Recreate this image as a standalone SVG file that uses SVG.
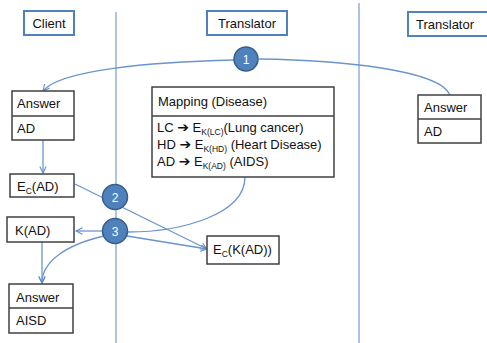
<svg xmlns="http://www.w3.org/2000/svg" width="487" height="343" viewBox="0 0 487 343">
<defs>
<marker id="arr" viewBox="0 0 10 10" refX="9" refY="5" markerWidth="8" markerHeight="8" orient="auto" markerUnits="userSpaceOnUse">
<path d="M1,1 L9,5 L1,9" fill="none" stroke="#5b8bc9" stroke-width="1.3"/>
</marker>
<style>
text{font-family:"Liberation Sans",Arial,sans-serif;font-size:13px;fill:#111}
.lane{stroke:#5b8bc9;stroke-width:1;fill:none}
.hdr{fill:#fff;stroke:#4f81bd;stroke-width:2}
.box{fill:#fff;stroke:#404040;stroke-width:1.5}
.con{stroke:#6a95cc;stroke-width:1.3;fill:none}
.step{fill:#4f81bd;stroke:#385d8a;stroke-width:1.5}
.num{fill:#fff;font-size:12px;text-anchor:middle}
.sub{font-size:8.5px}
.ar{font-family:"DejaVu Sans",sans-serif;font-size:14px;font-weight:bold}
</style>
</defs>
<g id="lanes">
<line class="lane" x1="116" y1="12" x2="116" y2="343"/>
<line class="lane" x1="359" y1="3" x2="359" y2="343"/>
</g>
<g id="hdr-client"><rect class="hdr" x="24" y="11" width="50" height="24"/><text x="49" y="28" text-anchor="middle">Client</text></g>
<g id="hdr-translator1"><rect class="hdr" x="207" y="11" width="80" height="24"/><text x="247" y="28" text-anchor="middle">Translator</text></g>
<g id="hdr-translator2"><rect class="hdr" x="408" y="12" width="85" height="24"/><text x="416" y="29">Translator</text></g>
<g id="connectors">
<path class="con" d="M234,60 C150,62 60,70 43,91" marker-end="url(#arr)"/>
<path class="con" d="M259,59 C340,60 440,70 450,95"/>
<path class="con" d="M43,140 L43,173" marker-end="url(#arr)"/>
<path class="con" d="M75,184 L207,249" marker-end="url(#arr)"/>
<path class="con" d="M245,177 C245,215 180,232 128,232"/>
<path class="con" d="M103,231 L76,231" marker-end="url(#arr)"/>
<path class="con" d="M127,236 L207,249" marker-end="url(#arr)"/>
<path class="con" d="M104,236 C65,245 42,262 42,283" marker-end="url(#arr)"/>
<path class="con" d="M42,242 L42,283" marker-end="url(#arr)"/>
</g>
<g id="answer-client"><rect class="box" x="12" y="91" width="62" height="49"/><line class="box" x1="12" y1="116" x2="74" y2="116"/><text x="17" y="108">Answer</text><text x="17" y="133">AD</text></g>
<g id="answer-translator"><rect class="box" x="418" y="95" width="63" height="48"/><line class="box" x1="418" y1="119" x2="481" y2="119"/><text x="424" y="112">Answer</text><text x="424" y="136">AD</text></g>
<g id="mapping"><rect class="box" x="152" y="87" width="182" height="90"/><line class="box" x1="152" y1="116" x2="334" y2="116"/>
<text x="158" y="106">Mapping (Disease)</text>
<text x="157" y="132">LC <tspan class="ar">➔</tspan> E<tspan class="sub" dy="3">K(LC)</tspan><tspan dy="-3">(Lung cancer)</tspan></text>
<text x="157" y="149">HD <tspan class="ar">➔</tspan> E<tspan class="sub" dy="3">K(HD)</tspan><tspan dy="-3"> (Heart Disease)</tspan></text>
<text x="157" y="166">AD <tspan class="ar">➔</tspan> E<tspan class="sub" dy="3">K(AD)</tspan><tspan dy="-3"> (AIDS)</tspan></text>
</g>
<g id="ec-ad"><rect class="box" x="10" y="174" width="64" height="23"/><text x="17" y="191">E<tspan class="sub" dy="3">C</tspan><tspan dy="-3">(AD)</tspan></text></g>
<g id="k-ad"><rect class="box" x="7" y="217" width="67" height="25"/><text x="15" y="235">K(AD)</text></g>
<g id="ec-kad"><rect class="box" x="207" y="236" width="72" height="28"/><text x="213" y="254">E<tspan class="sub" dy="3">C</tspan><tspan dy="-3">(K(AD))</tspan></text></g>
<g id="answer-final"><rect class="box" x="9" y="284" width="64" height="49"/><line class="box" x1="9" y1="308" x2="73" y2="308"/><text x="16" y="302">Answer</text><text x="16" y="325">AISD</text></g>
<g id="step1"><circle class="step" cx="246" cy="59" r="12"/><text class="num" x="246" y="63.5">1</text></g>
<g id="step2"><circle class="step" cx="115" cy="197" r="12.5"/><text class="num" x="115" y="201.5">2</text></g>
<g id="step3"><circle class="step" cx="115" cy="231" r="12.5"/><text class="num" x="115" y="235.5">3</text></g>
</svg>
